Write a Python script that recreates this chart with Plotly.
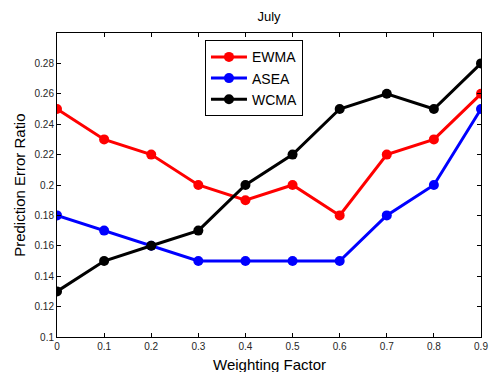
import plotly.graph_objects as go

x_vals = [0, 0.1, 0.2, 0.3, 0.4, 0.5, 0.6, 0.7, 0.8, 0.9]
ewma = [0.25, 0.23, 0.22, 0.20, 0.19, 0.20, 0.18, 0.22, 0.23, 0.26]
asea = [0.18, 0.17, 0.16, 0.15, 0.15, 0.15, 0.15, 0.18, 0.20, 0.25]
wcma = [0.13, 0.15, 0.16, 0.17, 0.20, 0.22, 0.25, 0.26, 0.25, 0.28]
x_ticks = [0, 0.1, 0.2, 0.3, 0.4, 0.5, 0.6, 0.7, 0.8, 0.9]
x_ticktext = ["0", "0.1", "0.2", "0.3", "0.4", "0.5", "0.6", "0.7", "0.8", "0.9"]
y_ticks = [0.1, 0.12, 0.14, 0.16, 0.18, 0.2, 0.22, 0.24, 0.26, 0.28]
y_ticktext = ["0.1", "0.12", "0.14", "0.16", "0.18", "0.2", "0.22", "0.24", "0.26", "0.28"]

fig = go.Figure()
for name, vals, col in [("EWMA", ewma, "#ff0000"), ("ASEA", asea, "#0000ff"), ("WCMA", wcma, "#000000")]:
    fig.add_trace(go.Scatter(x=x_vals, y=vals, name=name, mode="lines+markers",
                             line=dict(color=col, width=3),
                             marker=dict(color=col, size=10, symbol="circle")))

fig.update_layout(
    width=490, height=372,
    margin=dict(l=57, r=9, t=33, b=35, autoexpand=False),
    paper_bgcolor="white", plot_bgcolor="white",
    font=dict(family="Liberation Sans, Arial, sans-serif", color="#262626"),
    title=dict(text="July", x=0.549, xanchor="center", y=0.955, yanchor="middle",
               font=dict(size=13, color="#000000")),
    showlegend=True,
    legend=dict(x=0.349, y=0.976, xanchor="left", yanchor="top",
                bordercolor="black", borderwidth=1, bgcolor="white",
                font=dict(size=14, color="#000000"), tracegroupgap=0,
                itemwidth=36),
    xaxis=dict(range=[0, 0.9], tickvals=x_ticks, ticktext=x_ticktext,
               ticks="inside", ticklen=4, tickcolor="black", mirror="ticks",
               showline=True, linecolor="black", linewidth=1, showgrid=False,
               zeroline=False, tickfont=dict(size=10, color="#262626"), automargin=False),
    yaxis=dict(range=[0.1, 0.3], tickvals=y_ticks, ticktext=y_ticktext,
               ticks="inside", ticklen=4, tickcolor="black", mirror="ticks",
               showline=True, linecolor="black", linewidth=1, showgrid=False,
               zeroline=False, tickfont=dict(size=10, color="#262626"), automargin=False),
    annotations=[
        dict(text="Weighting Factor", xref="paper", yref="paper", x=0.5, y=-0.092,
             xanchor="center", yanchor="middle", showarrow=False,
             font=dict(size=15, color="#000000")),
        dict(text="Prediction Error Ratio", xref="paper", yref="paper", x=-0.09, y=0.5,
             xanchor="center", yanchor="middle", showarrow=False, textangle=-90,
             font=dict(size=15, color="#000000")),
    ],
)
fig.write_html("out.html")
